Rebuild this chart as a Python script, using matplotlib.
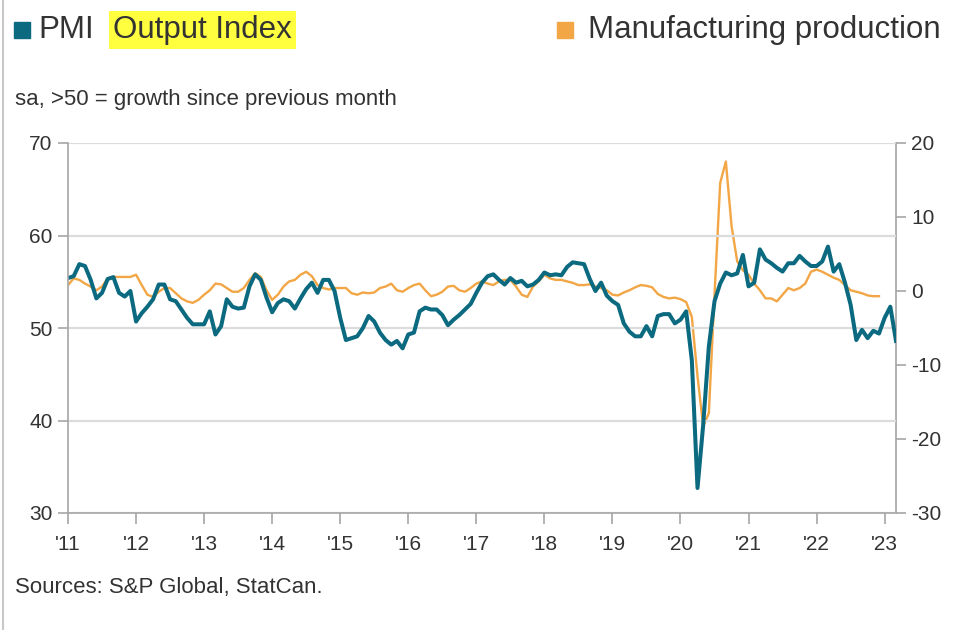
import matplotlib
matplotlib.use('Agg')
from matplotlib import pyplot as plt
from matplotlib.patches import Rectangle
from matplotlib.lines import Line2D

plt.rcParams['font.family'] = ['Liberation Sans', 'DejaVu Sans']
plt.rcParams['axes.unicode_minus'] = False

# PMI Output Index, monthly Jan 2011 - Mar 2023 (left axis)
pmi_2011 = [55.4, 55.6, 56.9, 56.7, 55.2, 53.2, 53.8, 55.3, 55.5, 53.8, 53.4, 54.0]
pmi_2012 = [50.7, 51.6, 52.3, 53.1, 54.7, 54.7, 53.1, 52.9, 52.0, 51.1, 50.4, 50.4]
pmi_2013 = [50.4, 51.8, 49.3, 50.2, 53.1, 52.3, 52.1, 52.2, 54.5, 55.8, 55.2, 53.3]
pmi_2014 = [51.7, 52.7, 53.1, 52.9, 52.1, 53.2, 54.2, 54.9, 53.8, 55.2, 55.2, 54.0]
pmi_2015 = [51.1, 48.7, 48.9, 49.1, 50.0, 51.3, 50.7, 49.5, 48.7, 48.2, 48.6, 47.8]
pmi_2016 = [49.3, 49.5, 51.8, 52.2, 52.0, 52.0, 51.4, 50.3, 50.9, 51.4, 52.0, 52.6]
pmi_2017 = [53.8, 54.9, 55.6, 55.8, 55.2, 54.7, 55.4, 54.9, 55.1, 54.5, 54.7, 55.2]
pmi_2018 = [56.0, 55.7, 55.8, 55.7, 56.6, 57.1, 57.0, 56.9, 55.3, 54.0, 54.9, 53.5]
pmi_2019 = [52.9, 52.5, 50.5, 49.6, 49.1, 49.1, 50.2, 49.1, 51.3, 51.5, 51.5, 50.5]
pmi_2020 = [50.9, 51.8, 46.5, 32.7, 39.5, 48.0, 52.9, 54.8, 56.0, 55.7, 55.9, 57.9]
pmi_2021 = [54.5, 54.9, 58.5, 57.4, 57.0, 56.5, 56.1, 57.0, 57.0, 57.8, 57.2, 56.7]
pmi_2022 = [56.7, 57.2, 58.8, 56.1, 56.9, 54.9, 52.5, 48.7, 49.8, 48.9, 49.7, 49.4]
pmi_2023 = [51.1, 52.3, 48.6]

# Manufacturing production, monthly Jan 2011 - Dec 2022 (right axis)
mfg_2011 = [0.8, 1.7, 1.5, 1.0, 0.6, 0.1, 0.6, 1.7, 1.9, 1.9, 1.9, 1.9]
mfg_2012 = [2.2, 0.8, -0.5, -0.8, -0.1, 0.4, 0.4, -0.3, -1.0, -1.4, -1.6, -1.2]
mfg_2013 = [-0.5, 0.1, 1.0, 0.9, 0.4, -0.1, -0.1, 0.4, 1.5, 2.4, 1.9, 0.1]
mfg_2014 = [-1.2, -0.5, 0.6, 1.3, 1.5, 2.2, 2.6, 2.0, 0.8, 0.4, 0.2, 0.4]
mfg_2015 = [0.4, 0.4, -0.3, -0.5, -0.2, -0.3, -0.2, 0.4, 0.6, 1.0, 0.1, -0.1]
mfg_2016 = [0.4, 0.8, 1.0, 0.1, -0.7, -0.5, -0.1, 0.6, 0.7, 0.1, -0.1, 0.4]
mfg_2017 = [1.0, 1.3, 1.0, 0.8, 1.3, 1.5, 1.5, 0.6, -0.5, -0.8, 0.6, 1.3]
mfg_2018 = [2.2, 1.7, 1.5, 1.5, 1.3, 1.1, 0.8, 0.8, 0.9, 0.6, 0.4, 0.1]
mfg_2019 = [-0.5, -0.6, -0.2, 0.1, 0.5, 0.8, 0.7, 0.5, -0.4, -0.8, -1.0, -0.9]
mfg_2020 = [-1.1, -1.5, -3.5, -11.5, -18.3, -16.5, -0.5, 14.6, 17.5, 8.8, 4.0, 2.8]
mfg_2021 = [2.2, 1.0, 0.1, -1.0, -1.0, -1.4, -0.5, 0.4, 0.1, 0.4, 1.0, 2.6]
mfg_2022 = [2.9, 2.6, 2.2, 1.8, 1.5, 0.8, 0.1, -0.1, -0.3, -0.6, -0.7, -0.7]

year_labels = ["'11", "'12", "'13", "'14", "'15", "'16", "'17", "'18", "'19",
               "'20", "'21", "'22", "'23"]

pmi = (pmi_2011 + pmi_2012 + pmi_2013 + pmi_2014 + pmi_2015 + pmi_2016 + pmi_2017
       + pmi_2018 + pmi_2019 + pmi_2020 + pmi_2021 + pmi_2022 + pmi_2023)
mfg = (mfg_2011 + mfg_2012 + mfg_2013 + mfg_2014 + mfg_2015 + mfg_2016 + mfg_2017
       + mfg_2018 + mfg_2019 + mfg_2020 + mfg_2021 + mfg_2022)

teal = '#0b6a80'
orange = '#f2a645'
grey = '#a6a6a6'
text_col = '#333333'

fig = plt.figure(figsize=(9.63, 6.3), dpi=100)
ax = fig.add_axes([68 / 963, 1 - 513 / 630, 828 / 963, 370 / 630])
ax2 = ax.twinx()

ax.set_zorder(ax2.get_zorder() + 1)
ax.patch.set_visible(False)

ax2.plot(range(len(mfg)), mfg, color=orange, lw=1.7)
ax.plot(range(len(pmi)), pmi, color=teal, lw=2.9, solid_joinstyle='round')

ax.set_xlim(0, len(pmi) - 1)
ax.set_ylim(30, 70)
ax2.set_ylim(-30, 20)
ax.set_yticks([30, 40, 50, 60, 70])
ax2.set_yticks([-30, -20, -10, 0, 10, 20])
ax.set_xticks(range(0, 12 * len(year_labels), 12))
ax.set_xticklabels(year_labels)

ax.grid(axis='y', color='#dcdcdc', lw=1.6)
ax.grid(axis='x', visible=False)
ax.set_axisbelow(True)

for a in (ax, ax2):
    a.spines['top'].set_visible(False)
    for s in ('left', 'right', 'bottom'):
        a.spines[s].set_color(grey)
        a.spines[s].set_linewidth(1.2)
    a.tick_params(colors=grey, labelcolor=text_col, labelsize=15, length=7, width=1.2)
ax.spines['right'].set_visible(False)
ax2.spines['left'].set_visible(False)
ax2.spines['bottom'].set_visible(False)
ax.tick_params(axis='x', length=8, pad=8)
ax.tick_params(axis='y', pad=4)
ax2.tick_params(axis='y', pad=4)

# legend
fig.patches.append(Rectangle((14 / 963, 1 - 38 / 630), 16 / 963, 16 / 630,
                             transform=fig.transFigure, color=teal))
fig.patches.append(Rectangle((557 / 963, 1 - 38 / 630), 16 / 963, 16 / 630,
                             transform=fig.transFigure, color=orange))
fig.text(38 / 963, 1 - 30 / 630, 'PMI', fontsize=22.5, color=text_col, va='center')
fig.text(113 / 963, 1 - 30 / 630, 'Output Index', fontsize=22.5, color=text_col, va='center',
         bbox=dict(facecolor='#ffff40', edgecolor='none', pad=3))
fig.text(588 / 963, 1 - 30 / 630, 'Manufacturing production', fontsize=22.5,
         color=text_col, va='center')

fig.text(15 / 963, 1 - 99 / 630, 'sa, >50 = growth since previous month', fontsize=16,
         color=text_col, va='center')
fig.text(15 / 963, 1 - 587 / 630, 'Sources: S&P Global, StatCan.', fontsize=16,
         color=text_col, va='center')

fig.add_artist(Line2D([0.003, 0.003], [0, 1], transform=fig.transFigure,
                      color='#c8c8c8', lw=1.5))

fig.savefig('out.png', dpi=100)
